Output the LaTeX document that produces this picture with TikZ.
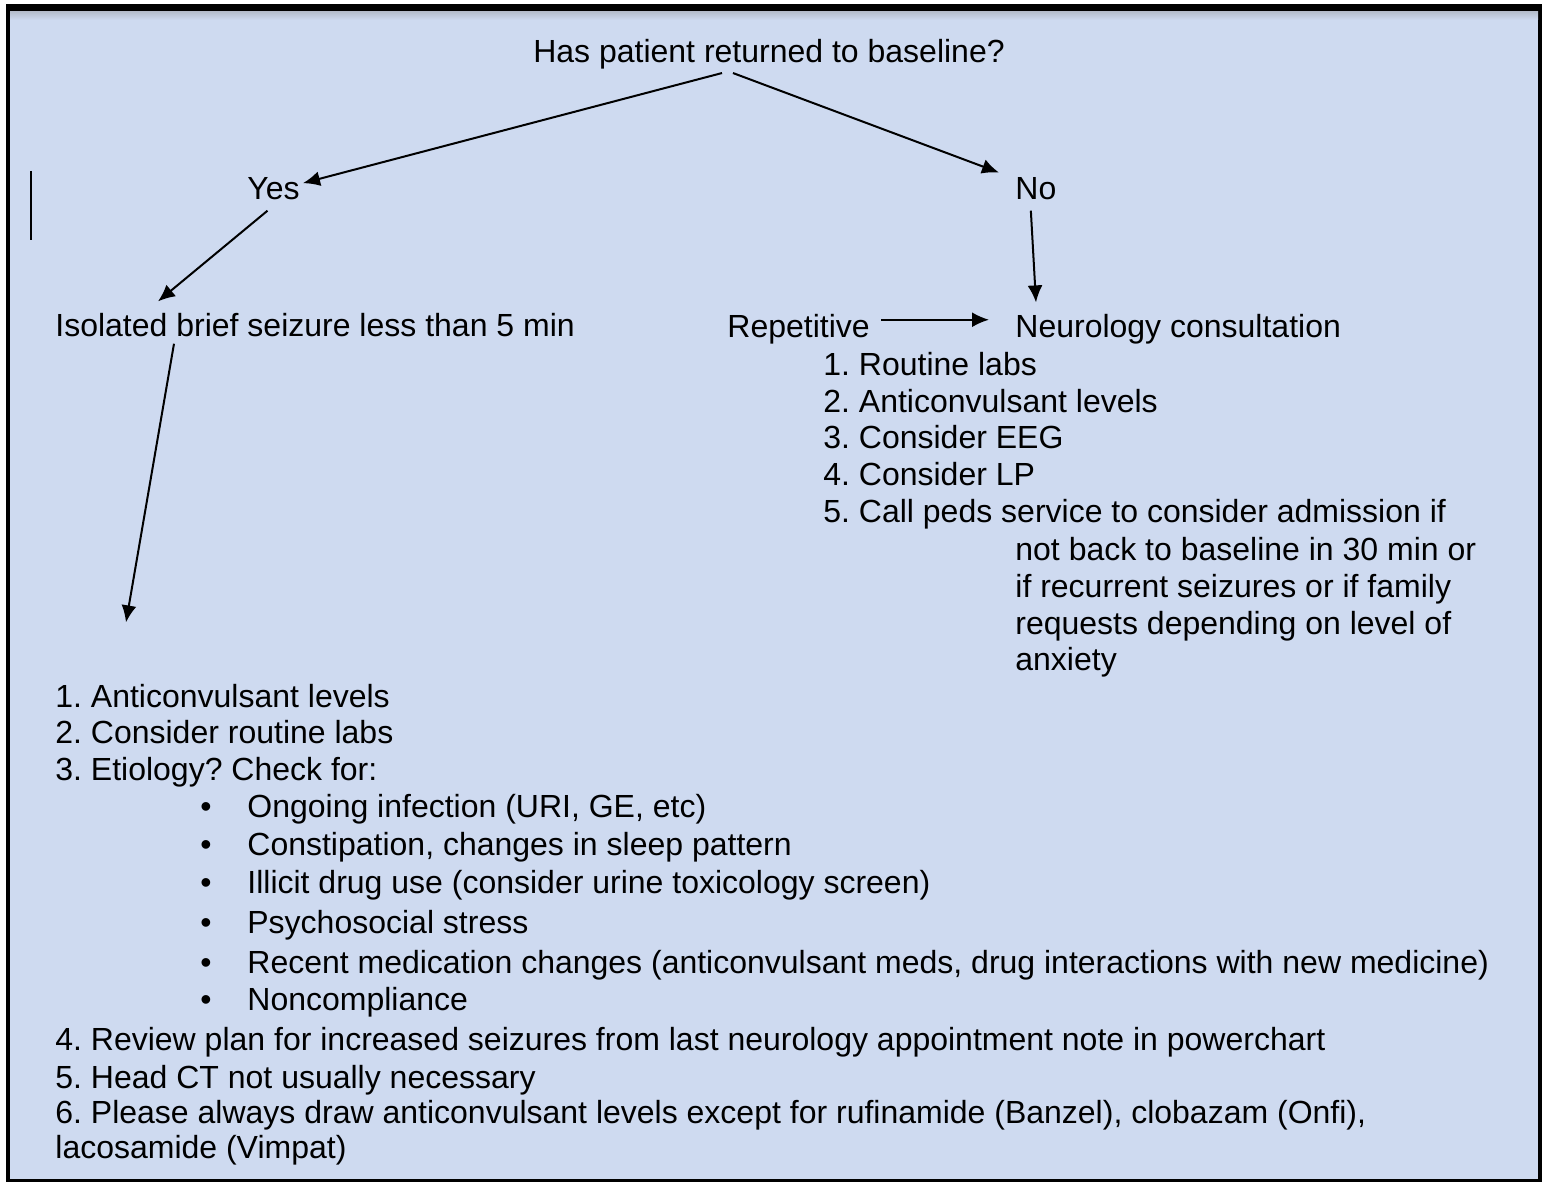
\documentclass[tikz,border=0pt]{standalone}
\usepackage{fontspec}
\setmainfont{Liberation Sans}
\usetikzlibrary{arrows.meta,calc}
\definecolor{bgblue}{RGB}{206,218,240}
\tikzset{
  txt/.style={anchor=base west, inner sep=0pt, font=\fontsize{16}{18.5}\selectfont\frenchspacing},
  arr/.style={line width=1pt, -{Latex[length=8.5pt,width=7.5pt]}}
}

\begin{document}
\begin{tikzpicture}[x=0.5pt,y=-0.5pt]
  \useasboundingbox (0,0) rectangle (1544,1182);
  \fill[black] (6,4) rectangle (1542,1182);
  \fill[bgblue] (10,12) rectangle (1538,1179);
  \shade[top color=bgblue!70!gray, bottom color=bgblue] (10,12) rectangle (1538,20);
  \draw[line width=1pt] (31,171) -- (31,240);

  \node[txt, anchor=base] (q) at (769,63) {Has patient returned to baseline?};
  \node[txt] (yes) at (247,200) {Yes};
  \node[txt] (no) at (1015,200) {No};
  \node[txt] (iso) at (55,337) {Isolated brief seizure less than 5 min};
  \node[txt] (rep) at (727,338) {Repetitive};
  \node[txt] (neuro) at (1015,338) {Neurology consultation};

  \foreach \x/\y/\t [count=\i] in {823/376/{1. Routine labs}, 823/413/{2. Anticonvulsant levels},
      823/449/{3. Consider EEG}, 823/486/{4. Consider LP},
      823/523/{5. Call peds service to consider admission if},
      1015/560/{not back to baseline in 30 min or}, 1015/597/{if recurrent seizures or if family},
      1015/634/{requests depending on level of}, 1015/670/{anxiety}}
    \node[txt] (right\i) at (\x,\y) {\t};

  \foreach \y/\t [count=\i] in {707/{1. Anticonvulsant levels}, 743/{2. Consider routine labs},
      780/{3. Etiology? Check for:}}
    \node[txt] (left\i) at (55,\y) {\t};
  \foreach \y/\t [count=\i] in {817/{Ongoing infection (URI, GE, etc)},
      855/{Constipation, changes in sleep pattern},
      893/{Illicit drug use (consider urine toxicology screen)},
      933/{Psychosocial stress},
      973/{Recent medication changes (anticonvulsant meds, drug interactions with new medicine)},
      1010/{Noncompliance}}
  {
    \node[txt] (dot\i) at (200,\y) {\textbullet};
    \node[txt] (cause\i) at (247,\y) {\t};
  }
  \foreach \y/\t [count=\i] in {1050/{4. Review plan for increased seizures from last neurology appointment note in powerchart},
      1088/{5. Head CT not usually necessary},
      1123/{6. Please always draw anticonvulsant levels except for rufinamide (Banzel), clobazam (Onfi),},
      1158/{lacosamide (Vimpat)}}
    \node[txt] (tail\i) at (55,\y) {\t};

  \draw[arr] ($(q.south)+(-47,3)$) -- ($(yes.east)+(3,-6)$);
  \draw[arr] ($(q.south)+(-36,3)$) -- ($(no.north west)+(-16,-5)$);
  \draw[arr] ($(yes.south)+(-6,10)$) -- ($(iso.north west)+(103,-12)$);
  \draw[arr] ($(no.south)+(-5,10)$) -- ($(neuro.north west)+(21,-12)$);
  \draw[arr] ($(rep.east)+(11,-10)$) -- ($(neuro.west)+(-26,-10)$);
  \draw[arr] ($(iso.south west)+(119,6)$) -- ($(left1.north west)+(71,-61)$);
\end{tikzpicture}
\end{document}
